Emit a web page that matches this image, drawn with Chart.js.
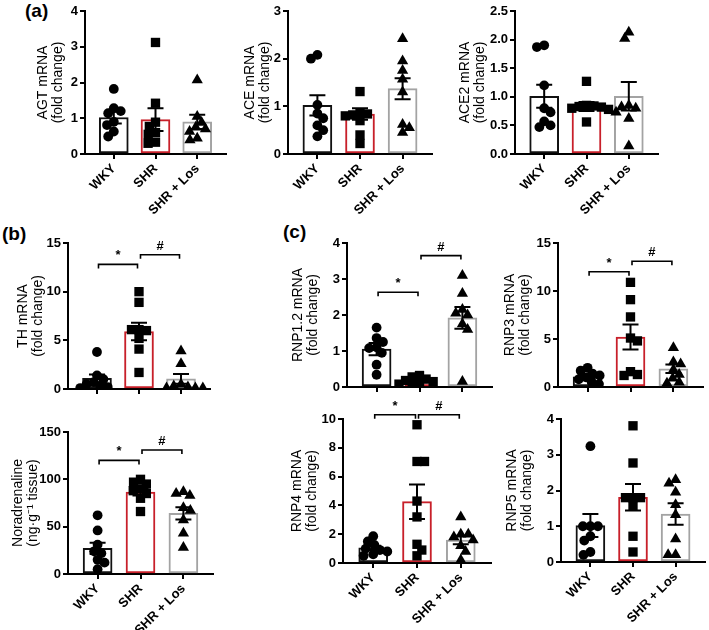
<!DOCTYPE html>
<html>
<head>
<meta charset="utf-8">
<script src="https://cdn.jsdelivr.net/npm/chart.js@4.4.1/dist/chart.umd.min.js"></script>
<style>
  html, body { margin: 0; background: #fff; }
  #fig { position: relative; width: 709px; height: 630px; overflow: hidden; }
  .panel { position: absolute; }
  .tag { position: absolute; font: bold 19px "Liberation Sans", Arial, sans-serif; line-height: 19px; }
</style>
</head>
<body>
<div id="fig">
  <div class="tag" style="left:25px;top:1px">(a)</div>
  <div class="tag" style="left:2px;top:224px">(b)</div>
  <div class="tag" style="left:283px;top:222px">(c)</div>
</div>
<script>
// ---------- data ----------
const groups = ["WKY", "SHR", "SHR + Los"];

// (a) AGT
const agtPts = [
  [1.82, 1.28, 1.2, 1.14, 0.9, 0.81, 0.63, 0.49],
  [3.12, 1.42, 0.89, 0.77, 0.6, 0.55, 0.33, 0.3],
  [2.07, 1.05, 0.88, 0.75, 0.7, 0.63, 0.44, 0.39]
];
const agtMean = [1.02, 0.96, 0.9];
const agtSem = [0.17, 0.32, 0.2];
const agtTicks = [0, 1, 2, 3, 4];

// (a) ACE
const acePts = [
  [2.08, 2.0, 1.03, 0.85, 0.75, 0.6, 0.5, 0.37],
  [1.31, 0.86, 0.84, 0.82, 0.8, 0.7, 0.4, 0.22],
  [2.42, 1.95, 1.75, 1.57, 1.3, 0.62, 0.55, 0.45]
];
const aceMean = [1.02, 0.84, 1.37];
const aceSem = [0.21, 0.12, 0.22];
const aceTicks = [0, 1, 2, 3];

// (a) ACE2
const ace2Pts = [
  [1.9, 1.87, 1.2, 0.8, 0.73, 0.57, 0.5, 0.47],
  [1.27, 0.85, 0.84, 0.83, 0.82, 0.8, 0.78, 0.56],
  [2.13, 2.02, 0.85, 0.82, 0.8, 0.73, 0.62, 0.14]
];
const ace2Mean = [1.01, 0.83, 1.01];
const ace2Sem = [0.2, 0.08, 0.25];
const ace2Ticks = [0, 0.5, 1, 1.5, 2, 2.5];

// (b) TH
const thPts = [
  [3.8, 1.4, 1.0, 0.7, 0.5, 0.3, 0.2, 0.1],
  [10.0, 8.9, 6.1, 6.1, 6.0, 5.2, 4.1, 1.7],
  [3.9, 2.6, 0.5, 0.3, 0.2, 0.1, 0.1, 0.1]
];
const thMean = [1.1, 5.9, 1.05];
const thSem = [0.4, 0.9, 0.5];
const thTicks = [0, 5, 10, 15];
const thSig = [[0, 1, 12.8, "*"], [1, 2, 13.8, "#"]];

// (b) Noradrenaline
const naPts = [
  [62, 46, 31, 24, 22, 15, 12, 5],
  [100, 97, 95, 90, 88, 85, 80, 66],
  [87, 85, 83, 70, 67, 57, 43, 28]
];
const naMean = [27, 86.5, 64];
const naSem = [6, 3.5, 6.5];
const naTicks = [0, 50, 100, 150];
const naSig = [[0, 1, 120, "*"], [1, 2, 131, "#"]];

// (c) RNP1.2
const r12Pts = [
  [1.65, 1.36, 1.25, 1.1, 1.08, 0.95, 0.62, 0.34],
  [0.32, 0.28, 0.22, 0.18, 0.15, 0.1, 0.08, 0.05],
  [3.1, 2.6, 2.15, 2.05, 2.0, 1.75, 1.6, 0.15]
];
const r12Mean = [1.05, 0.17, 1.92];
const r12Sem = [0.17, 0.04, 0.3];
const r12Ticks = [0, 1, 2, 3, 4];
const r12Sig = [[0, 1, 2.63, "*"], [1, 2, 3.65, "#"]];

// (c) RNP3
const r3Pts = [
  [2.0, 1.7, 1.4, 1.2, 1.0, 0.8, 0.5, 0.3],
  [10.9, 9.1, 7.3, 5.1, 4.8, 1.6, 1.3, 1.2],
  [4.1, 2.6, 2.4, 1.8, 1.3, 0.9, 0.5, 0.4]
];
const r3Mean = [1.05, 5.2, 1.9];
const r3Sem = [0.2, 1.3, 0.45];
const r3Ticks = [0, 5, 10, 15];
const r3Sig = [[0, 1, 12.0, "*"], [1, 2, 13.1, "#"]];

// (c) RNP4
const r4Pts = [
  [1.86, 1.5, 1.25, 1.0, 0.9, 0.8, 0.6, 0.5],
  [9.6, 7.05, 7.05, 4.3, 3.2, 1.3, 0.9, 0.5],
  [3.2, 2.0, 2.0, 1.8, 1.6, 1.2, 0.8, 0.2]
];
const r4Mean = [1.05, 4.26, 1.6];
const r4Sem = [0.15, 1.2, 0.3];
const r4Ticks = [0, 2, 4, 6, 8, 10];
const r4Sig = [[0, 1, 10.3, "*"], [1, 2, 10.3, "#"]];

// (c) RNP5
const r5Pts = [
  [3.24, 1.0, 1.0, 1.0, 0.72, 0.6, 0.28, 0.2],
  [3.81, 2.77, 1.8, 1.8, 1.8, 1.56, 0.72, 0.28],
  [2.3, 2.2, 1.95, 1.6, 1.32, 0.64, 0.2, 0.2]
];
const r5Mean = [1.02, 1.81, 1.34];
const r5Sem = [0.32, 0.37, 0.3];
const r5Ticks = [0, 1, 2, 3, 4];

// ---------- styling ----------
const FONT = "'Liberation Sans', Arial, sans-serif";
const edge = ["#111111", "#c8202a", "#a3a3a3"];
const marks = ["circle", "rect", "triangle"];
const markSize = [4.9, 6.6, 6.5];
const XMIN = -0.69, XMAX = 2.69;
const fig = document.getElementById("fig");

// spread points sideways so they don't pile up (simple beeswarm, in pixels)
function swarm(vals, pxPerVal, pxPerX, d) {
  const placed = [];
  const out = new Array(vals.length);
  const order = vals.map((v, i) => i).sort((a, b) => vals[b] - vals[a]);
  order.forEach((i, n) => {
    const y = vals[i] * pxPerVal;
    const cands = [0];
    placed.forEach(p => {
      const dy = Math.abs(p.y - y);
      if (dy < d) {
        const w = Math.sqrt(d * d - dy * dy);
        cands.push(p.x + w, p.x - w);
      }
    });
    const sgn = n % 2 ? 1 : -1;
    cands.sort((a, b) => Math.abs(a) - Math.abs(b) || sgn * (a - b));
    let x = cands.find(c => placed.every(p => (p.x - c) ** 2 + (p.y - y) ** 2 >= d * d - 0.01));
    if (x === undefined) x = 0;
    placed.push({ x, y });
    out[i] = x / pxPerX;
  });
  return out;
}

function makePanel(box, title, pts, mean, sem, ticks, sig, dec) {
  const W = 66, PT = 24, PR = 12, XH = 62;
  const div = document.createElement("div");
  div.className = "panel";
  div.style.left = (box.left - W) + "px";
  div.style.top = (box.top - PT) + "px";
  div.style.width = (W + box.right - box.left + PR) + "px";
  div.style.height = (PT + box.bottom - box.top + XH) + "px";
  const cv = document.createElement("canvas");
  div.appendChild(cv);
  fig.appendChild(div);

  const ymax = ticks[ticks.length - 1];
  const pxPerVal = (box.bottom - box.top) / ymax;
  const pxPerX = (box.right - box.left) / (XMAX - XMIN);

  const datasets = [{
    type: "bar",
    data: mean.map((m, i) => ({ x: i, y: m })),
    backgroundColor: "#ffffff",
    borderColor: edge,
    borderWidth: 2,
    borderSkipped: false,
    barThickness: 29,
    order: 2
  }];
  pts.forEach((vals, g) => {
    const dx = swarm(vals, pxPerVal, pxPerX, 7.5);
    datasets.push({
      type: "scatter",
      data: vals.map((v, k) => ({ x: g + dx[k], y: v })),
      pointStyle: marks[g],
      pointRadius: markSize[g],
      backgroundColor: "#000",
      borderColor: "#000",
      borderWidth: 0,
      order: 1
    });
  });

  const extras = {
    id: "extras",
    afterDatasetsDraw(chart) {
      const { ctx, scales: { x, y } } = chart;
      ctx.save();
      ctx.strokeStyle = "#000";
      ctx.lineWidth = 2;
      mean.forEach((m, i) => {
        const cx = x.getPixelForValue(i);
        const t = y.getPixelForValue(m + sem[i]);
        const b = y.getPixelForValue(Math.max(m - sem[i], 0));
        ctx.beginPath();
        ctx.moveTo(cx, t); ctx.lineTo(cx, b);
        ctx.moveTo(cx - 8, t); ctx.lineTo(cx + 8, t);
        ctx.moveTo(cx - 8, b); ctx.lineTo(cx + 8, b);
        ctx.stroke();
      });
      // significance brackets
      ctx.lineWidth = 1.6;
      ctx.fillStyle = "#000";
      ctx.font = "bold 13px " + FONT;
      ctx.textAlign = "center";
      ctx.textBaseline = "bottom";
      (sig || []).forEach(([a, b2, v, s]) => {
        const x1 = x.getPixelForValue(a) + 1.5, x2 = x.getPixelForValue(b2) - 1.5;
        const yy = y.getPixelForValue(v);
        ctx.beginPath();
        ctx.moveTo(x1, yy + 4); ctx.lineTo(x1, yy); ctx.lineTo(x2, yy); ctx.lineTo(x2, yy + 4);
        ctx.stroke();
        ctx.fillText(s, (x1 + x2) / 2, yy - 2);
      });
      ctx.restore();
    }
  };

  const tickFont = { family: FONT, size: 13, weight: "bold" };
  new Chart(cv, {
    type: "bar",
    data: { datasets },
    options: {
      responsive: true,
      maintainAspectRatio: false,
      animation: false,
      layout: { padding: { top: PT, right: PR, left: 0, bottom: 0 } },
      plugins: { legend: { display: false }, tooltip: { enabled: false } },
      scales: {
        x: {
          type: "linear",
          offset: false,
          min: XMIN,
          max: XMAX,
          afterBuildTicks: s => { s.ticks = [0, 1, 2].map(v => ({ value: v })); },
          afterFit: s => { s.height = XH; },
          grid: { offset: false, drawOnChartArea: false, tickLength: 5, color: "#000", lineWidth: 2 },
          border: { color: "#000", width: 2 },
          ticks: {
            autoSkip: false, minRotation: 45, maxRotation: 45, padding: 2,
            color: "#000", font: tickFont,
            callback: v => box.labels === false ? "" : groups[v]
          }
        },
        y: {
          min: 0,
          max: ymax,
          afterBuildTicks: s => { s.ticks = ticks.map(v => ({ value: v })); },
          afterFit: s => { s.width = W; },
          grid: { drawOnChartArea: false, tickLength: 5, color: "#000", lineWidth: 2 },
          border: { color: "#000", width: 2 },
          ticks: {
            padding: 2, color: "#000", font: tickFont,
            callback: v => v.toFixed(dec || 0)
          },
          title: {
            display: true,
            text: title,
            color: "#000",
            font: { family: FONT, size: 14, lineHeight: 1.05 },
            padding: { top: W - box.gap - 7.35, bottom: 0 }
          }
        }
      }
    },
    plugins: [extras]
  });
}

// ---------- panels (axis box in page pixels) ----------
makePanel({ left: 85, right: 226, top: 11, bottom: 154, gap: 42 },
  ["AGT mRNA", "(fold change)"], agtPts, agtMean, agtSem, agtTicks);
makePanel({ left: 288, right: 432, top: 11, bottom: 154, gap: 38 },
  ["ACE mRNA", "(fold change)"], acePts, aceMean, aceSem, aceTicks);
makePanel({ left: 515, right: 658, top: 11, bottom: 154, gap: 50 },
  ["ACE2 mRNA", "(fold change)"], ace2Pts, ace2Mean, ace2Sem, ace2Ticks, null, 1);
makePanel({ left: 68, right: 210, top: 243, bottom: 389, gap: 45, labels: false },
  ["TH mRNA", "(fold change)"], thPts, thMean, thSem, thTicks, thSig);
makePanel({ left: 68, right: 213, top: 432, bottom: 574, gap: 50 },
  ["Noradrenaline", "(ng\u00b7g\u207b\u00b9 tissue)"], naPts, naMean, naSem, naTicks, naSig);
makePanel({ left: 347, right: 492, top: 243, bottom: 387, gap: 49, labels: false },
  ["RNP1.2 mRNA", "(fold change)"], r12Pts, r12Mean, r12Sem, r12Ticks, r12Sig);
makePanel({ left: 558, right: 703, top: 243, bottom: 387, gap: 48, labels: false },
  ["RNP3 mRNA", "(fold change)"], r3Pts, r3Mean, r3Sem, r3Ticks, r3Sig);
makePanel({ left: 343, right: 491, top: 419, bottom: 563, gap: 46 },
  ["RNP4 mRNA", "(fold change)"], r4Pts, r4Mean, r4Sem, r4Ticks, r4Sig);
makePanel({ left: 561, right: 705, top: 419, bottom: 562, gap: 49 },
  ["RNP5 mRNA", "(fold change)"], r5Pts, r5Mean, r5Sem, r5Ticks);
</script>
</body>
</html>
